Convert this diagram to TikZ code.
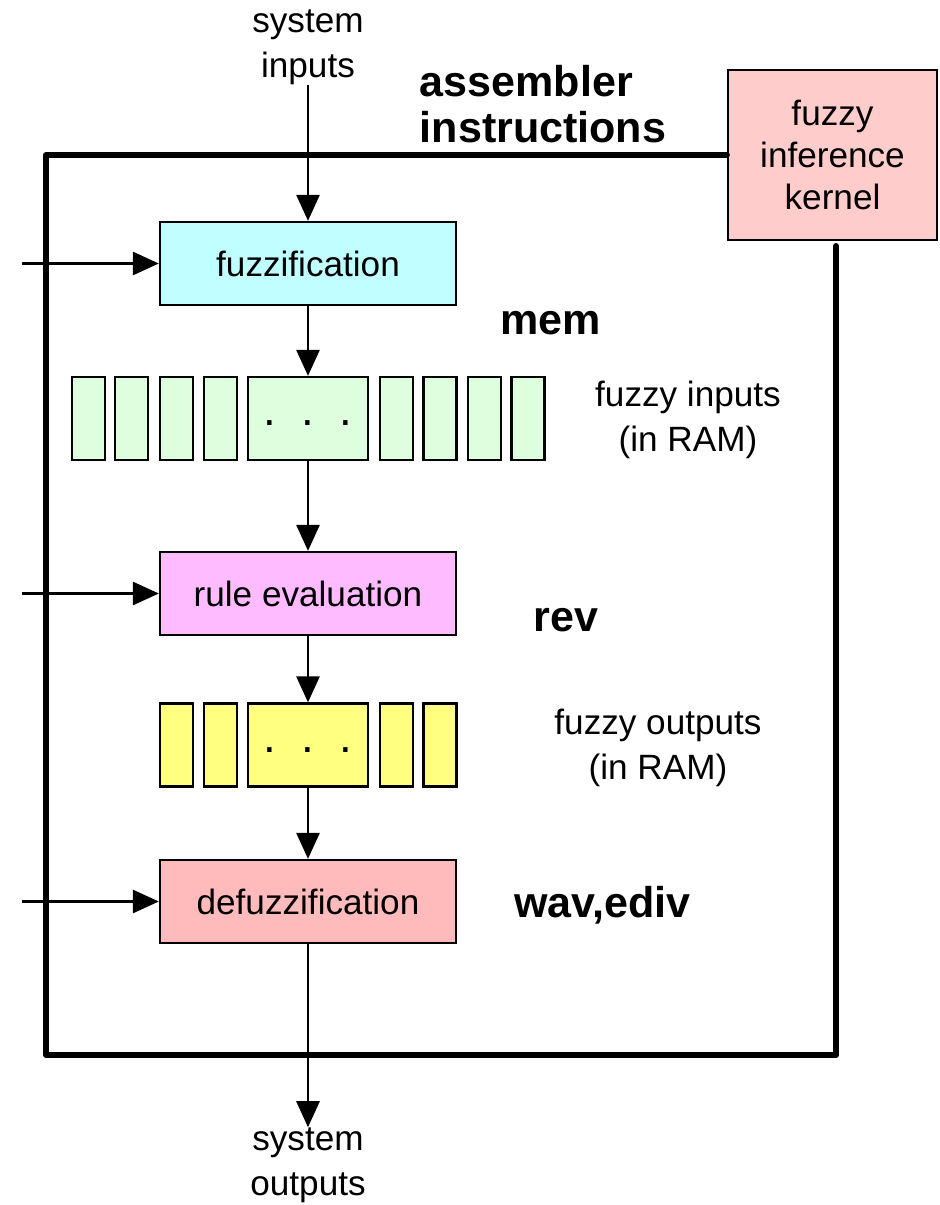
\documentclass[tikz,border=0pt]{standalone}
\usepackage{fontspec}
\setmainfont{Liberation Sans}
\usetikzlibrary{positioning,arrows.meta}
\definecolor{fuzzcyan}{HTML}{BFFFFF}
\definecolor{cellgreen}{HTML}{DDFFDD}
\definecolor{rulepink}{HTML}{FFBBFF}
\definecolor{cellyellow}{HTML}{FFFF80}
\definecolor{defuzzred}{HTML}{FFBBBB}
\definecolor{kernelred}{HTML}{FFCCCC}
\newcommand{\celldots}{\raisebox{-2.8mm}{\fontsize{26}{26}\selectfont .\hspace{5mm}.\hspace{5mm}.}}
\tikzset{
  flowarrow/.style={-{Triangle[length=5.2mm, width=4.6mm]}, line width=1.6pt},
  frameline/.style={line width=3.4pt, line cap=round, line join=round},
  stagebox/.style={draw, line width=1.3pt, minimum width=59.2mm, minimum height=16.6mm, inner sep=0pt, font=\fontsize{20}{24}\selectfont},
  cell/.style={draw, line width=1.3pt, minimum width=6.6mm, minimum height=16.6mm, inner sep=0pt},
  bigcell/.style={cell, minimum width=24mm},
  plain/.style={align=center, font=\fontsize{20}{25.5}\selectfont, inner sep=0pt},
  opname/.style={align=left, font=\fontsize{24.5}{26}\selectfont\bfseries, inner sep=0pt}
}

\begin{document}
\begin{tikzpicture}[x=0.2mm, y=-0.2mm]
  \useasboundingbox (0,0) rectangle (939,1205);

  % kernel and the frame around the pipeline
  \node[draw, line width=1.3pt, fill=kernelred, minimum width=41.8mm, minimum height=34mm,
        align=center, font=\fontsize{20}{24}\selectfont] (kern) at (832.5,155) {fuzzy\\ inference\\ kernel};
  \coordinate (rtop) at (836,246);
  \draw[frameline] (kern.west) -- (46,155) -- (46,1055) -- (836,1055) -- (rtop);

  % pipeline stages
  \node[stagebox, fill=fuzzcyan] (fuzz) at (308,263.5) {fuzzification};
  \node[stagebox, fill=rulepink] (rule) at (308,593.5) {rule evaluation};
  \node[stagebox, fill=defuzzred] (defuzz) at (308,901.5) {defuzzification};

  % fuzzy inputs in RAM
  \node[bigcell, fill=cellgreen] (gdots) at (308,418.5) {\celldots};
  \foreach \x [count=\i] in {88.5,131.5,176.5,220.5,396.5,440,484.5,528} {
    \node[cell, fill=cellgreen] (g\i) at (\x,418.5) {};
  }

  % fuzzy outputs in RAM
  \node[bigcell, fill=cellyellow] (ydots) at (308,745) {\celldots};
  \foreach \x [count=\i] in {176.5,220.5,396.5,440} {
    \node[cell, fill=cellyellow] (y\i) at (\x,745) {};
  }

  % labels
  \node[plain] (sysin) at (308,47) {system\\ inputs};
  \node[plain] (sysout) at (308,1165) {system\\ outputs};
  \node[plain] (finlbl) at (688,420) {fuzzy inputs\\ (in RAM)};
  \node[plain] (foutlbl) at (658,748) {fuzzy outputs\\ (in RAM)};
  \node[opname] (asm) at (543,104) {assembler\\ instructions};
  \node[opname, anchor=west] (memop) at (500,323) {mem};
  \node[opname, anchor=west] (revop) at (533,620) {rev};
  \node[opname, anchor=west] (wavop) at (514,905) {wav,ediv};

  % left-hand control inputs
  \coordinate (c1) at (22,263.5);
  \coordinate (c2) at (22,593.5);
  \coordinate (c3) at (22,901.5);

  \draw[flowarrow] (sysin) -- (fuzz);
  \draw[flowarrow] (fuzz) -- (gdots);
  \draw[flowarrow] (gdots) -- (rule);
  \draw[flowarrow] (rule) -- (ydots);
  \draw[flowarrow] (ydots) -- (defuzz);
  \draw[flowarrow] (defuzz) -- (sysout);
  \draw[flowarrow] (c1) -- (fuzz);
  \draw[flowarrow] (c2) -- (rule);
  \draw[flowarrow] (c3) -- (defuzz);
\end{tikzpicture}
\end{document}
